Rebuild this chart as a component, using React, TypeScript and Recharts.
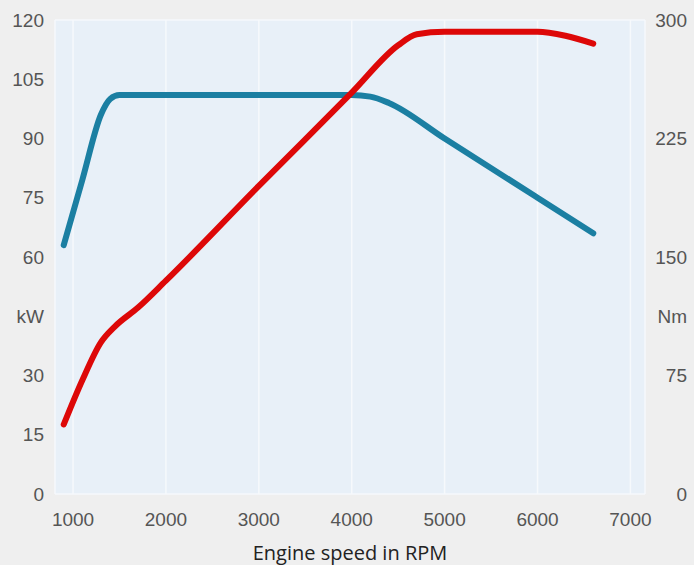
import { CartesianGrid, Label, Line, LineChart, XAxis, YAxis } from "recharts"

// engine speed ticks
const rpmTicks = [1000, 2000, 3000, 4000, 5000, 6000, 7000]
const kwTicks = [0, 15, 30, 45, 60, 75, 90, 105, 120]
const nmTicks = [0, 75, 112.5, 150, 225, 300]

// power curve (kW, left axis)
const powerRpm = [900, 1100, 1300, 1400, 1500, 2000, 3000, 4000, 4200, 4400, 5000, 6000, 6600]
const powerKw = [63, 79.5, 96, 100, 101, 101, 101, 101, 100.6, 99, 90, 75, 66]

// torque curve (Nm, right axis)
const torqueRpm = [900, 1100, 1300, 1450, 1700, 2000, 3000, 4000, 4500, 4700, 5000, 6000, 6300, 6600]
const torqueNm = [44, 72, 96, 106, 118, 135, 195, 254, 284, 291, 292.5, 292.5, 290, 285]

const powerData = powerRpm.map((rpm, i) => ({ rpm, kw: powerKw[i] }))
const torqueData = torqueRpm.map((rpm, i) => ({ rpm, nm: torqueNm[i] }))

const tickFont = { fontFamily: "Liberation Sans, Arial, sans-serif", fontSize: 19, fill: "#555" }

const LeftTick = (props: any) => {
  const v = props.payload.value
  return (
    <text x={44} y={props.y} dy="0.355em" textAnchor="end" {...tickFont}>
      {v === 45 ? "kW" : v}
    </text>
  )
}

const RightTick = (props: any) => {
  const v = props.payload.value
  return (
    <text x={687} y={props.y} dy="0.355em" textAnchor="end" {...tickFont}>
      {v === 112.5 ? "Nm" : v}
    </text>
  )
}

const BottomTick = (props: any) => (
  <text x={props.x} y={513} dy="0.71em" textAnchor="middle" {...tickFont}>
    {props.payload.value}
  </text>
)

export default function App() {
  return (
    <div style={{ position: "fixed", left: 0, top: 0, background: "#efefef" }}>
      <LineChart width={694} height={565} margin={{ top: 20, right: 0, bottom: 0, left: 0 }}>
        <CartesianGrid fill="#e8f0f8" fillOpacity={1} stroke="#f6f9fc" strokeWidth={1.5} />
        <XAxis
          type="number"
          dataKey="rpm"
          domain={[806, 7157]}
          ticks={rpmTicks}
          height={71}
          axisLine={false}
          tickLine={false}
          tick={<BottomTick />}
          allowDuplicatedCategory={false}
        >
          <Label
            value="Engine speed in RPM"
            position="insideBottom"
            offset={5}
            style={{ fontFamily: "Open Sans, sans-serif", fontSize: 20, fill: "#222" }}
          />
        </XAxis>
        <YAxis
          yAxisId="kw"
          domain={[0, 120]}
          ticks={kwTicks}
          width={55}
          axisLine={false}
          tickLine={false}
          tick={<LeftTick />}
          interval={0}
        />
        <YAxis
          yAxisId="nm"
          orientation="right"
          domain={[0, 300]}
          ticks={nmTicks}
          width={49}
          axisLine={false}
          tickLine={false}
          tick={<RightTick />}
          interval={0}
        />
        <Line
          yAxisId="kw"
          data={powerData}
          dataKey="kw"
          type="monotone"
          stroke="#1b7fa2"
          strokeWidth={6}
          strokeLinecap="round"
          dot={false}
          isAnimationActive={false}
        />
        <Line
          yAxisId="nm"
          data={torqueData}
          dataKey="nm"
          type="monotone"
          stroke="#dd0808"
          strokeWidth={6}
          strokeLinecap="round"
          dot={false}
          isAnimationActive={false}
        />
      </LineChart>
    </div>
  )
}
